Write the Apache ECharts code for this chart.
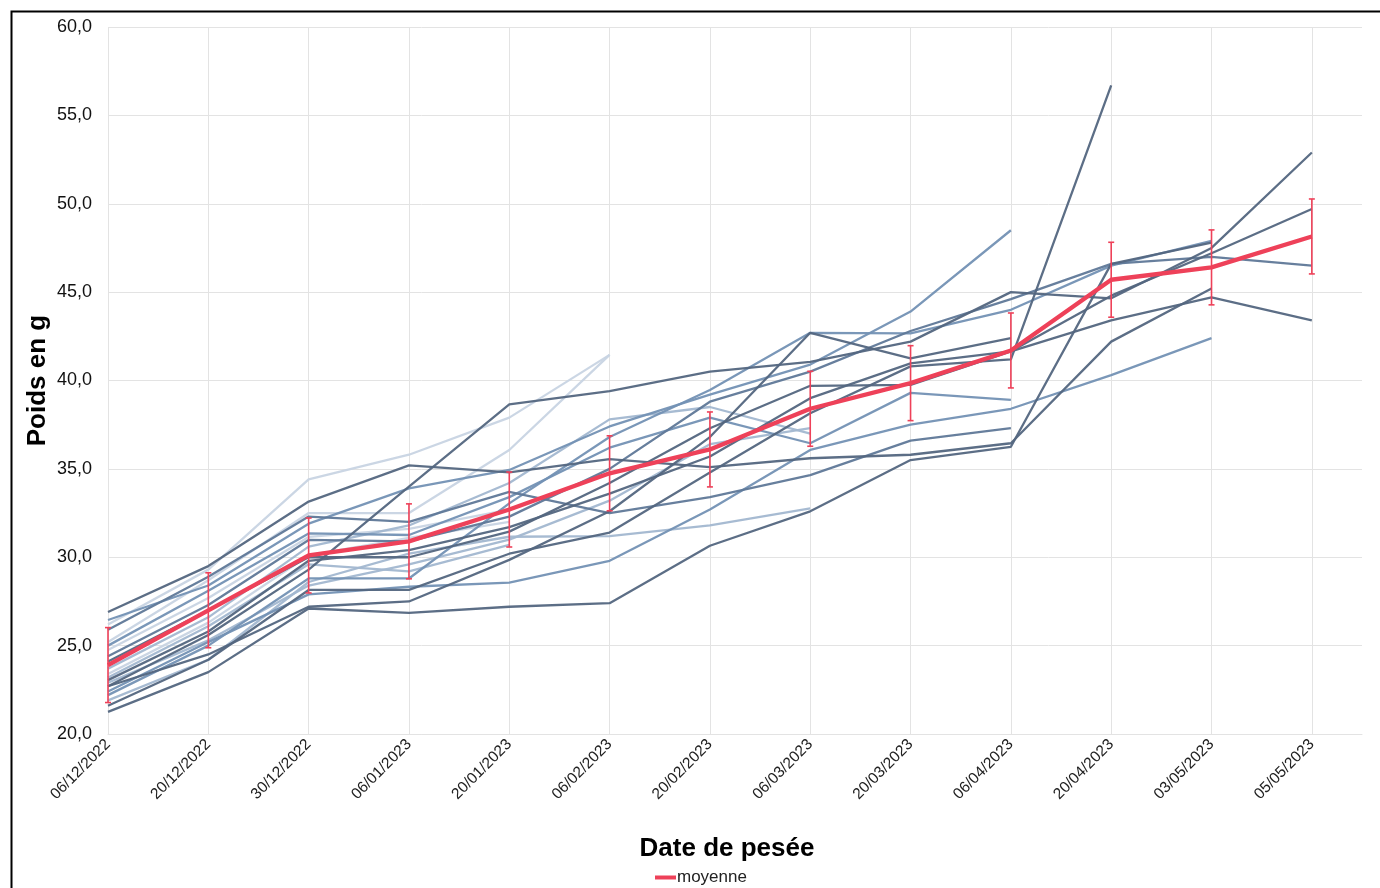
<!DOCTYPE html>
<html>
<head>
<meta charset="utf-8">
<script src="https://cdn.jsdelivr.net/npm/echarts@6/dist/echarts.min.js"></script>
<style>
html,body{margin:0;padding:0;background:#fff;}
#c{width:1380px;height:888px;}
</style>
</head>
<body>
<div id="c"></div>
<script>
// ---- data ----
const dates = ['06/12/2022','20/12/2022','30/12/2022','06/01/2023','20/01/2023','06/02/2023','20/02/2023','06/03/2023','20/03/2023','06/04/2023','20/04/2023','03/05/2023','05/05/2023'];
const yTicks = [20,25,30,35,40,45,50,55,60];

const indA = [22.7,25.6,29.3,34.0,38.65,39.4,40.5,41.05,42.2,45.0,44.65,47.5,52.9];
const indB = [24.1,27.0,30.0,30.0,31.45,34.2,37.3,39.7,39.75,41.65,44.8,47.2,49.7];
const indC = [24.4,27.3,30.98,30.9,32.3,35.0,38.8,40.5,42.8,44.6,46.6,47.0,46.5];
const indD = [23.05,25.8,29.8,30.4,31.7,33.6,35.7,39.0,40.97,41.65,43.4,44.7,43.4];
const indE = [26.9,29.5,33.15,35.2,34.8,35.55,35.1,35.6,35.8,36.45,42.2,45.2,null];
const indF = [22.2,25.0,28.8,28.8,33.05,36.8,39.46,42.7,42.67,44.0,46.5,47.9,null];
const indH = [21.25,23.5,27.1,26.85,27.2,27.4,30.65,32.6,35.5,36.25,46.6,47.8,null];
const indI = [22.4,25.2,27.9,28.33,28.56,29.8,32.7,36.07,37.5,38.4,40.3,42.4,null];
const indJ = [21.6,24.2,28.15,28.15,30.2,31.4,34.8,38.15,40.8,41.2,56.7,null,null];
const indK = [26.45,28.4,31.9,33.9,34.94,37.4,39.2,40.9,43.9,48.5,null,null,null];
const indL = [22.7,24.5,27.2,27.5,29.85,32.6,36.8,42.7,41.25,42.4,null,null,null];
const indG = [25.0,28.1,31.35,31.26,33.4,36.2,37.9,36.45,39.3,38.9,null,null,null];
const indM = [25.9,28.9,32.3,32.0,33.7,32.5,33.4,34.65,36.6,37.3,null,null,null];
const indN = [22.9,25.3,28.4,29.6,31.0,33.2,36.4,37.3,null,null,null,null,null];
const indO = [23.7,26.6,30.6,31.8,34.2,37.8,38.5,37.0,null,null,null,null,null];
const indP = [21.9,24.2,28.6,30.2,31.16,31.2,31.8,32.77,null,null,null,null,null];
const indQ = [26.2,29.3,34.4,35.8,37.9,41.45,null,null,null,null,null,null,null];
const indR = [25.2,28.7,32.5,32.5,36.07,41.45,null,null,null,null,null,null,null];
const indS = [24.75,27.7,31.15,31.6,32.7,null,null,null,null,null,null,null,null];
const indT = [23.4,26.3,30.1,31.1,32.0,null,null,null,null,null,null,null,null];
const indU = [23.2,26.1,29.6,29.2,30.7,null,null,null,null,null,null,null,null];

const meanVals = [23.9,27.0,30.1,30.9,32.7,34.75,36.1,38.4,39.85,41.7,45.7,46.4,48.15];
const errVals  = [2.12,2.12,2.12,2.12,2.12,2.12,2.12,2.12,2.12,2.12,2.12,2.12,2.12];

// ---- styling ----
const C_DARK='#53667f', C_MD='#5f7898', C_MED='#7391b4', C_LIGHT='#a2b7d0', C_VL='#c8d4e3';
const individuals = [
  [indU,C_LIGHT],[indS,C_VL],[indT,C_VL],[indQ,C_VL],[indR,C_VL],
  [indN,C_LIGHT],[indO,C_LIGHT],[indP,C_LIGHT],
  [indG,C_MED],[indI,C_MED],[indF,C_MED],[indK,C_MED],[indM,C_MD],[indC,C_MD],
  [indB,C_DARK],[indD,C_DARK],[indE,C_DARK],[indH,C_DARK],[indJ,C_DARK],[indL,C_DARK],[indA,C_DARK]
];
const RED='#EE4159';
const FONT='Liberation Sans, Arial, sans-serif';

const series = individuals.map((it, k) => ({
  type:'line', name:'ind'+k, silent:true, symbol:'none',
  data: it[0].map((v,i)=> v==null ? null : [i,v]).filter(d=>d),
  lineStyle:{color:it[1], width:2.3, opacity:0.95}, itemStyle:{color:it[1]}, z:2
}));

series.push({
  type:'custom', name:'err', silent:true, z:5,
  data: meanVals.map((m,i)=>[i, m-errVals[i], m+errVals[i]]),
  encode:{x:0, y:[1,2]},
  renderItem:function(params, api){
    const lo = api.coord([api.value(0), api.value(1)]);
    const hi = api.coord([api.value(0), api.value(2)]);
    const w = 3;
    const st = {stroke:RED, lineWidth:1.6};
    return {type:'group', children:[
      {type:'line', shape:{x1:lo[0],y1:lo[1],x2:hi[0],y2:hi[1]}, style:st},
      {type:'line', shape:{x1:lo[0]-w,y1:lo[1],x2:lo[0]+w,y2:lo[1]}, style:st},
      {type:'line', shape:{x1:hi[0]-w,y1:hi[1],x2:hi[0]+w,y2:hi[1]}, style:st}
    ]};
  }
});
series.push({
  type:'line', name:'moyenne', symbol:'none', z:6,
  data: meanVals.map((v,i)=>[i,v]),
  lineStyle:{color:RED, width:4.3}, itemStyle:{color:RED}
});

const splitColors = dates.map(()=> '#e3e3e3').concat(['rgba(0,0,0,0)']);

const chart = echarts.init(document.getElementById('c'));
chart.setOption({
  animation:false,
  backgroundColor:'#fff',
  textStyle:{fontFamily:FONT},
  graphic:[{type:'rect', left:9, top:9, shape:{x:0,y:0,width:1400,height:900}, style:{fill:'none', stroke:'#000', lineWidth:2}, silent:true, z:100}],
  grid:{left:108, right:18, top:27, bottom:154},
  legend:{
    data:[{name:'moyenne', icon:'rect'}],
    left:650, top:864, itemWidth:21, itemHeight:4, itemGap:4,
    textStyle:{fontSize:17, color:'#222', fontFamily:FONT, padding:[0,0,0,-4]}
  },
  xAxis:{
    type:'value', min:0, max:12.5, interval:1,
    name:'Date de pesée', nameLocation:'middle', nameGap:102, nameMoveOverlap:false,
    nameTextStyle:{fontSize:26, fontWeight:'bold', color:'#000', fontFamily:FONT, padding:[0,16,0,0]},
    axisLine:{show:true, lineStyle:{color:'#e3e3e3', width:1}},
    axisTick:{show:false},
    splitLine:{show:true, lineStyle:{color:splitColors, width:1}},
    axisLabel:{
      rotate:45, fontSize:15.5, color:'#222', margin:8, showMaxLabel:true,
      formatter:function(v){ return (Number.isInteger(v) && dates[v]) ? dates[v] : ''; }
    }
  },
  yAxis:{
    type:'value', min:yTicks[0], max:yTicks[yTicks.length-1], interval:5,
    name:'Poids en g', nameLocation:'middle', nameGap:57, nameMoveOverlap:false,
    nameTextStyle:{fontSize:26, fontWeight:'bold', color:'#000', fontFamily:FONT},
    axisLine:{show:false}, axisTick:{show:false},
    splitLine:{show:true, lineStyle:{color:'#e3e3e3', width:1}},
    axisLabel:{fontSize:18, color:'#111', margin:16, formatter:function(v){ return v.toFixed(1).replace('.', ','); }}
  },
  series:series
});
</script>
</body>
</html>
